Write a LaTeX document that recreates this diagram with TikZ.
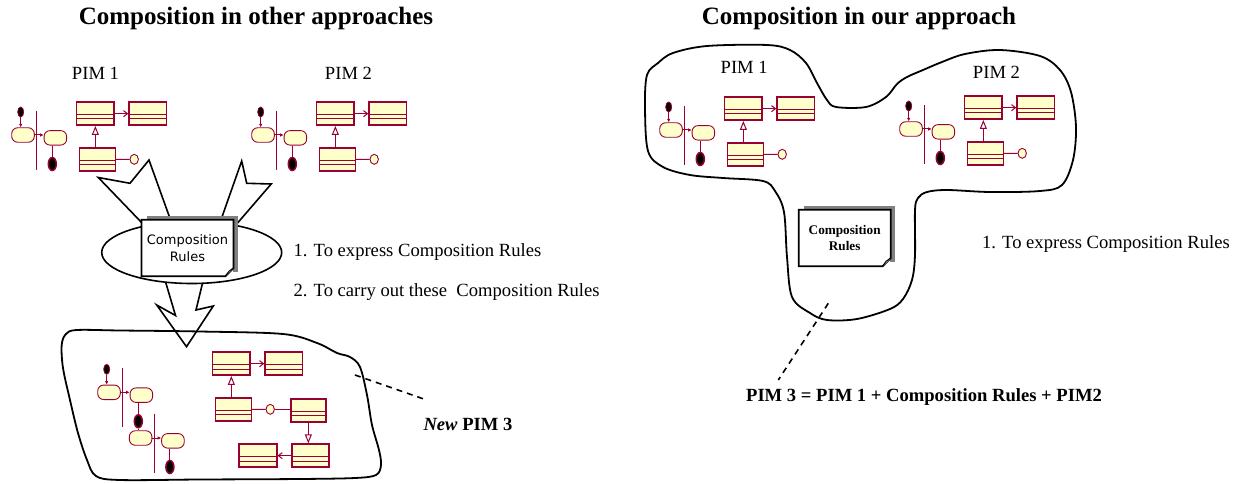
\documentclass[tikz,border=0pt]{standalone}
\usepackage{fontspec}
\setmainfont{Liberation Serif}
\newfontfamily\notefont{DejaVu Sans}
\usetikzlibrary{arrows.meta,shapes.geometric,shadows}

\definecolor{umlred}{HTML}{990033}
\definecolor{umlfill}{HTML}{FFFFCC}
\definecolor{shadowgray}{HTML}{808080}

\tikzset{
  cls/.style={draw=umlred, fill=umlfill, line width=1.6, minimum width=37.5,
    minimum height=23, inner sep=0,
    path picture={
      \draw[umlred, line width=0.9]
        ([yshift=-12.2pt]path picture bounding box.north west) --
        ([yshift=-12.2pt]path picture bounding box.north east)
        ([yshift=-16.8pt]path picture bounding box.north west) --
        ([yshift=-16.8pt]path picture bounding box.north east);}},
  actbox/.style={draw=umlred, fill=umlfill, line width=0.9, rounded corners=6,
    minimum width=22.6, minimum height=14.5, inner sep=0},
  startdot/.style={ellipse, draw=umlred, fill=black, line width=0.8,
    minimum width=6, minimum height=10, inner sep=0},
  finaldot/.style={ellipse, draw=umlred, fill=black, line width=1.5,
    minimum width=8, minimum height=13, inner sep=0},
  lolli/.style={ellipse, draw=umlred, fill=umlfill, line width=0.9,
    minimum width=8.4, minimum height=10, inner sep=0},
  actbar/.style={umlred, line width=1},
  actflow/.style={umlred, line width=1, -{Latex[length=3.5pt,width=3.5pt]}},
  umlline/.style={umlred, line width=1},
  assoc/.style={umlred, line width=1, -{Straight Barb[length=4pt,width=6pt]}},
  gen/.style={umlred, line width=1, -{Triangle[open,length=9pt,width=7pt,fill=white]}},
  spike/.style={draw=black, fill=white, line width=1.6, line join=miter},
  blob/.style={draw=black, line width=1.8},
  notebox/.style={fill=white, inner sep=0, minimum width=91.6, minimum height=56,
    align=center,
    drop shadow={shadow xshift=5pt, shadow yshift=4.5pt, opacity=1, fill=shadowgray}},
  noteline/.style={draw=black, line width=1.8, line join=miter},
  pointer/.style={black, line width=1.6, dash pattern=on 6pt off 5pt},
  title/.style={font=\fontsize{25}{30}\selectfont\bfseries, anchor=base},
  plain/.style={font=\fontsize{18.6}{22}\selectfont, anchor=base},
  boldtext/.style={font=\fontsize{18.6}{22}\selectfont\bfseries, anchor=base},
}

% activity fragment: two states split by a bar, ending in a final state
\newcommand\actgroup[1]{%
  \node[actbox] (#1L) at (23,135) {};
  \node[actbox] (#1R) at (55.35,137.85) {};
  \node[finaldot] (#1F) at (52.3,164) {};
  \coordinate (#1bt) at (36.7,111);
  \coordinate (#1bb) at (36.7,170);
  \draw[actbar] (#1bt) -- (#1bb);
  \draw[actflow] (#1L.east) -- (#1L.east -| #1R.west);
  \draw[umlline] (#1F |- #1R.south) -- (#1F.north);
}
\newcommand\actstart[1]{%
  \node[startdot] (#1S) at (20.7,112) {};
  \draw[actflow] (#1S.south) -- (#1S.south |- #1L.north);
}
% class fragment: association, generalisation and a provided interface
\newcommand\clsgroup[1]{%
  \node[cls] (#1A) at (95.35,113.65) {};
  \node[cls] (#1B) at (147.85,113.65) {};
  \node[cls, minimum width=36] (#1C) at (97.3,159.35) {};
  \node[lolli] (#1O) at (134.2,159.3) {};
  \draw[assoc] (#1A.east) -- (#1B.west);
  \draw[gen] (#1A.south |- #1C.north) -- (#1A.south);
  \draw[umlline] (#1C.east) -- (#1O.west);
}

\begin{document}
\begin{tikzpicture}[x=1pt, y=-1pt]
\useasboundingbox (0,0) rectangle (1250,484);

% ---------------- left half ----------------
\node[title] (tl) at (256,25) {Composition in other approaches};
\node[plain] (lp1) at (95.5,80) {PIM 1};
\node[plain] (lp2) at (348.5,80) {PIM 2};

\begin{scope}
  \actgroup{la}\actstart{la}\clsgroup{lc}
\end{scope}
\begin{scope}[shift={(240,0)}]
  \actgroup{ma}\actstart{ma}\clsgroup{mc}
\end{scope}

% jagged arrows into and out of the rules
\draw[spike] (98.3,177.5) -- (130,183.3) -- (149,160) -- (172,224) -- (143,224) -- cycle;
\draw[spike] (241.7,161) -- (246.7,183.3) -- (271.2,184) -- (236.7,224) -- (219.5,224) -- cycle;
\draw[spike] (165,280) -- (175.5,315.5) -- (156.7,305) -- (186.5,346.7) -- (213.3,306)
  -- (196,310) -- (203.3,280) -- cycle;

\node[draw, ellipse, line width=1.6, fill=white, minimum width=180,
  minimum height=62, inner sep=0] (ell) at (191.7,252.5) {};

\node[notebox, font=\notefont\fontsize{13}{17}\selectfont] (n1) at (187.5,248) {Composition\\Rules};
\draw[noteline] (n1.north west) -- (n1.north east) -- ([yshift=8pt]n1.south east)
  -- ([xshift=-8pt]n1.south east) -- (n1.south west) -- cycle;
\draw[black, line width=1, fill=white] ([xshift=-8pt]n1.south east)
  -- ([xshift=-4.5pt,yshift=5pt]n1.south east) -- ([yshift=8pt]n1.south east);

\node[plain, anchor=base west] (s1) at (290,256.7) {1. To express Composition Rules};
\node[plain, anchor=base west] (s2) at (290,296.7) {2. To carry out these\ \ Composition Rules};

% merged model
\draw[blob] plot[smooth cycle, tension=0.55] coordinates {
  (61.7,345) (66,334) (77,330) (120,330.5) (200,331.5) (283,334) (317,343)
  (337,353) (350,357) (360,367) (367,395) (372,425) (379,450) (381,465)
  (376,475) (355,478) (300,479) (200,479.5) (120,480) (96,476) (87,460)
  (78,433) (70,400) (63,368)};

\begin{scope}[shift={(86,257.3)}]
  \actgroup{ba}\actstart{ba}
\end{scope}
\begin{scope}[shift={(117.6,303)}]
  \actgroup{bb}
\end{scope}
\draw[umlline] (baF.south) -- (baF.south |- bbL.north);
\begin{scope}[shift={(136,250)}]
  \clsgroup{bc}
\end{scope}
\node[cls, minimum width=35.3] (bD) at (308.35,410.5) {};
\node[cls] (bE) at (310.5,455.65) {};
\node[cls, minimum width=38] (bF) at (257.7,455.65) {};
\draw[umlline] (bcO.east) -- (bcO.east -| bD.west);
\draw[gen] (bD.south) -- (bD.south |- bE.north);
\draw[assoc] (bE.west) -- (bF.east);

\coordinate (pin3) at (355,375);
\node[boldtext, anchor=base west] (new3) at (420,430) {\textit{New} PIM 3};
\coordinate (tip3) at (426.7,400);
\draw[pointer] (pin3) -- (tip3);

% ---------------- right half ----------------
\node[title] (tr) at (859,25) {Composition in our approach};

\draw[blob] plot[smooth cycle, tension=0.55] coordinates {
  (647,75) (658,63) (673,53) (707,46) (767,45) (790,50) (806,63) (817,83)
  (827,100) (836,107) (866,107) (886,97) (897,84) (907,77) (923,70) (942,62)
  (965,54) (1000,50) (1040,56) (1060,70) (1071,92) (1076,127) (1073,160)
  (1062,185) (1040,191) (990,192) (947,190) (927,192) (918,198) (915,210)
  (915,255) (912,280) (903,299) (890,309) (857,319) (827,320) (810,313)
  (792,297) (787,257) (784,212) (775,191) (763,181) (723,178) (690,175)
  (663,167) (648,151) (645,107)};

\node[plain] (rp1) at (744.2,73.5) {PIM 1};
\node[plain] (rp2) at (996.5,79) {PIM 2};

\begin{scope}[shift={(648,-5)}]
  \actgroup{ra}\actstart{ra}\clsgroup{rc}
\end{scope}
\begin{scope}[shift={(888,-6)}]
  \actgroup{sa}\actstart{sa}\clsgroup{sc}
\end{scope}

\node[notebox, font=\fontsize{13.2}{16}\selectfont\bfseries] (n2) at (844.65,238) {Composition\\Rules};
\draw[noteline] (n2.north west) -- (n2.north east) -- ([yshift=8pt]n2.south east)
  -- ([xshift=-8pt]n2.south east) -- (n2.south west) -- cycle;
\draw[black, line width=1, fill=white] ([xshift=-8pt]n2.south east)
  -- ([xshift=-4.5pt,yshift=5pt]n2.south east) -- ([yshift=8pt]n2.south east);

\node[plain, anchor=base east] (s3) at (1233.3,248) {1. To express Composition Rules};

\coordinate (pinr) at (828.3,303.3);
\coordinate (tipr) at (778.3,380);
\draw[pointer] (pinr) -- (tipr);
\node[boldtext] (eq) at (924,401) {PIM 3 = PIM 1 + Composition Rules + PIM2};

\end{tikzpicture}
\end{document}
